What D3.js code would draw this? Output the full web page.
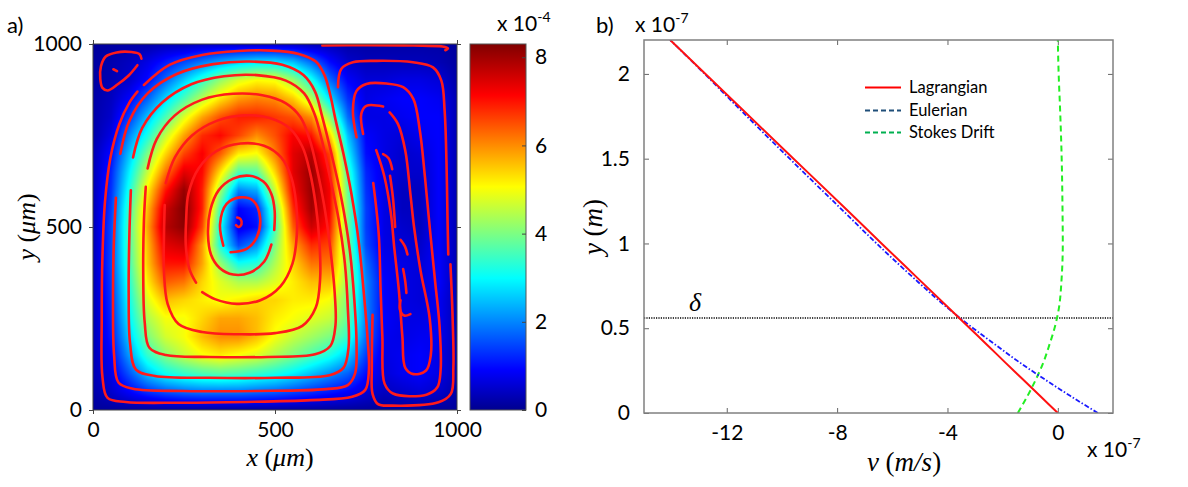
<!DOCTYPE html>
<html lang="en">
<head>
<meta charset="utf-8">
<title>Cavity flow: speed field and velocity profiles</title>
<script src="https://d3js.org/d3.v7.min.js"></script>
<style>
  body { margin: 0; background: #fff; }
  svg text { font-family: Lato, "Open Sans", sans-serif; fill: #000; }
  .math { font-family: "Liberation Serif", "DejaVu Serif", serif; }
</style>
</head>
<body>
<svg id="fig" width="1188" height="487"></svg>
<script>
// ---------- panel a) data : speed grid (x 1e-4), rows from y=1000 down to y=0 ----------
var gridX = [0, 50, 100, 150, 200, 250, 300, 350, 400, 450, 500, 550, 600, 650, 700, 750, 800, 850, 900, 950, 1000];
var gridY = [1000, 950, 900, 850, 800, 750, 700, 650, 600, 550, 500, 450, 400, 350, 300, 250, 200, 150, 100, 50, 0];
var speed = [
  [0.1, 0.15, 0.2, 0.2, 0.3, 0.3, 0.4, 0.4, 0.4, 0.4, 0.4, 0.4, 0.3, 0.3, 0.2, 0.2, 0.2, 0.2, 0.2, 0.2, 0.1],
  [0.15, 0.25, 0.4, 0.7, 1.1, 1.5, 1.9, 2.3, 2.6, 2.8, 2.8, 2.5, 1.8, 1.0, 0.5, 0.35, 0.35, 0.35, 0.35, 0.3, 0.15],
  [0.15, 0.3, 0.5, 1.0, 1.8, 2.6, 3.4, 4.2, 4.8, 5.1, 5.0, 4.3, 3.2, 1.8, 0.9, 0.6, 0.6, 0.7, 0.7, 0.6, 0.2],
  [0.2, 0.4, 0.9, 1.7, 2.7, 3.6, 4.5, 5.3, 5.9, 6.1, 6.0, 5.5, 4.5, 2.8, 1.3, 0.7, 0.8, 0.9, 0.9, 0.8, 0.3],
  [0.2, 0.5, 1.4, 2.5, 3.6, 4.8, 5.8, 6.5, 6.9, 6.9, 6.7, 6.5, 6.0, 4.2, 1.8, 0.7, 0.7, 0.8, 0.9, 0.9, 0.3],
  [0.2, 0.7, 2.0, 3.2, 4.6, 5.8, 6.8, 7.1, 6.6, 6.0, 6.5, 7.2, 7.0, 5.5, 2.5, 0.9, 0.7, 0.6, 0.8, 0.9, 0.3],
  [0.3, 1.0, 2.5, 4.0, 5.4, 6.6, 7.2, 6.4, 5.2, 5.0, 6.1, 7.4, 7.8, 6.6, 3.0, 1.0, 0.7, 0.5, 0.6, 0.9, 0.3],
  [0.3, 1.2, 2.9, 4.6, 6.2, 7.4, 7.1, 5.3, 3.6, 3.7, 5.4, 7.4, 8.1, 7.0, 3.5, 1.2, 0.7, 0.5, 0.5, 0.9, 0.3],
  [0.3, 1.3, 3.2, 5.2, 7.0, 8.1, 6.9, 4.3, 2.0, 2.3, 4.6, 7.2, 8.1, 7.2, 3.8, 1.3, 0.7, 0.4, 0.4, 0.9, 0.3],
  [0.3, 1.4, 3.5, 5.6, 7.6, 8.3, 6.9, 3.5, 0.9, 1.2, 3.8, 6.8, 8.0, 7.2, 4.0, 1.4, 0.7, 0.4, 0.4, 0.9, 0.3],
  [0.3, 1.5, 3.6, 5.8, 7.8, 8.2, 6.6, 3.1, 0.7, 1.0, 3.5, 6.4, 7.6, 7.0, 4.0, 1.4, 0.7, 0.5, 0.4, 0.9, 0.3],
  [0.3, 1.5, 3.6, 5.6, 7.4, 7.6, 5.9, 3.2, 1.5, 2.1, 4.0, 5.8, 6.8, 6.6, 4.0, 1.5, 0.7, 0.6, 0.5, 0.9, 0.3],
  [0.3, 1.5, 3.5, 5.5, 7.0, 7.0, 5.8, 4.2, 3.1, 3.3, 4.4, 5.4, 6.2, 6.2, 4.2, 1.8, 0.8, 0.7, 0.6, 0.9, 0.3],
  [0.3, 1.4, 3.3, 5.2, 6.4, 6.2, 5.4, 4.8, 4.4, 4.4, 4.8, 5.2, 5.6, 5.6, 4.2, 2.0, 0.9, 0.7, 0.6, 0.9, 0.3],
  [0.3, 1.3, 3.1, 4.8, 5.6, 5.4, 5.2, 5.0, 5.2, 5.4, 5.4, 5.2, 5.2, 5.0, 4.0, 2.0, 0.9, 0.7, 0.6, 0.8, 0.3],
  [0.3, 1.2, 2.9, 4.4, 5.0, 5.0, 5.4, 5.8, 5.8, 5.6, 5.2, 5.0, 4.8, 4.6, 3.8, 2.0, 0.9, 0.7, 0.7, 0.8, 0.3],
  [0.3, 1.1, 2.6, 4.0, 4.7, 5.0, 5.6, 6.0, 6.0, 5.6, 5.0, 4.6, 4.3, 4.0, 3.4, 1.8, 0.8, 0.7, 0.8, 0.8, 0.3],
  [0.3, 0.9, 2.2, 3.4, 4.1, 4.6, 5.0, 5.2, 5.0, 4.8, 4.4, 4.0, 3.6, 3.2, 2.6, 1.4, 0.7, 0.8, 0.9, 0.7, 0.3],
  [0.3, 0.7, 1.6, 2.5, 3.1, 3.4, 3.6, 3.7, 3.6, 3.4, 3.2, 2.9, 2.5, 2.1, 1.7, 1.0, 0.6, 0.8, 0.9, 0.7, 0.3],
  [0.2, 0.5, 0.9, 1.3, 1.6, 1.8, 1.9, 1.9, 1.9, 1.8, 1.7, 1.5, 1.3, 1.1, 0.9, 0.6, 0.4, 0.5, 0.6, 0.5, 0.2],
  [0.1, 0.1, 0.1, 0.1, 0.1, 0.1, 0.1, 0.1, 0.1, 0.1, 0.1, 0.1, 0.1, 0.1, 0.1, 0.1, 0.1, 0.1, 0.1, 0.1, 0.1]
];
var speedMax = 8.3;
var axisTicksA = [0, 500, 1000];
var colorbarTicks = [0, 2, 4, 6, 8];

// streamlines (x, y in um)
var streamPrimary = [
  [[140,888],[210,943],[300,970],[400,981],[490,982],[565,973],[612,952],[636,915],[652,860],[667,790],[688,700],[710,590],[730,460],[744,320],[754,200],[758,110],[748,55],[712,36],[600,27],[420,22],[240,20],[90,22],[40,33],[26,90],[24,250],[26,420],[33,570],[48,690],[72,780],[100,840],[122,870]],
  [[75,700],[100,790],[150,865],[230,918],[330,945],[430,952],[520,943],[578,915],[610,870],[630,800],[655,700],[682,580],[705,440],[718,300],[724,180],[720,100],[700,68],[640,57],[450,52],[250,52],[110,58],[70,75],[58,150],[55,300],[57,450],[63,580]],
  [[110,690],[135,770],[190,840],[270,890],[360,912],[450,915],[530,900],[580,865],[608,810],[628,740],[650,640],[675,520],[692,400],[700,280],[702,170],[688,115],[650,95],[500,88],[320,88],[170,93],[118,110],[102,180],[98,320],[100,480],[104,600]],
  [[150,660],[175,740],[225,805],[300,848],[385,864],[465,860],[530,838],[570,800],[595,740],[615,660],[635,560],[652,440],[664,320],[666,230],[652,175],[610,152],[480,145],[320,145],[200,150],[155,170],[142,240],[138,380],[140,520],[145,610]],
  [[200,620],[225,690],[272,750],[340,790],[415,805],[485,798],[540,770],[575,720],[596,650],[612,560],[622,460],[624,360],[612,280],[575,230],[500,210],[400,207],[300,213],[235,235],[205,290],[195,380],[195,480],[197,560]],
  [[300,322],[335,303],[395,290],[460,300],[515,338],[548,400],[560,480],[558,565],[545,635],[517,690],[470,722],[405,728],[340,708],[290,660],[262,590],[256,520],[255,450],[265,385],[283,348]],
  [[490,452],[470,405],[430,375],[385,370],[348,388],[324,425],[316,480],[322,545],[345,600],[385,632],[430,640],[468,624],[490,590],[499,545],[498,492]],
  [[358,449],[349,508],[367,563],[404,581],[440,572],[459,526],[450,472],[422,440],[378,431]],
  [[393,505],[400,500],[408,508],[405,522],[396,526]]
];
var streamSecondary = [
  [[673,882],[682,932],[714,950],[779,954],[879,950],[934,936],[957,900],[966,818],[971,681],[974,520],[976,425]],
  [[982,398],[988,250],[990,117],[983,44],[949,21],[822,12],[783,16],[768,44],[766,120],[768,260]],
  [[724,745],[714,818],[724,872],[751,891],[806,892],[852,882],[880,850],[898,763],[912,636],[925,500],[940,350],[952,230],[955,110],[946,62],[916,42],[824,45],[801,72],[795,199],[790,330],[785,480],[770,620]],
  [[742,754],[737,809],[751,831],[797,829]],
  [[815,813],[838,781],[858,708],[872,590],[882,500],[900,380],[925,250],[928,150],[915,108],[880,98],[858,115],[850,200],[840,330],[828,440],[818,540],[800,640],[778,710]],
  [[797,699],[812,688],[822,658]],
  [[816,640],[824,580],[830,500]],
  [[845,465],[857,447],[864,425]],
  [[852,385],[858,350],[861,320]],
  [[845,300],[843,275],[855,258],[872,262]]
];
var streamCorner = [
  [[133,960],[128,972],[105,978],[65,977],[35,966],[22,940],[20,905],[26,880],[40,873],[68,890],[98,914],[122,942]],
  [[56,931],[66,926]],
  [[630,996],[750,997],[880,996],[960,993],[975,988],[968,983]]
];

// ---------- panel b) data : velocity profiles (x 1e-7) ----------
var heightB = [0, 0.1, 0.2, 0.3, 0.4, 0.5, 0.6, 0.8, 1.0, 1.2, 1.5, 1.8, 2.0, 2.2];
var lagrangianV = [0, -0.64, -1.28, -1.92, -2.55, -3.19, -3.83, -5.11, -6.39, -7.66, -9.58, -11.5, -12.77, -14.05];
var eulerianV = [1.45, 0.46, -0.49, -1.40, -2.24, -3.07, -3.85, -5.25, -6.57, -7.83, -9.72, -11.58, -12.80, -14.05];
var stokesV = [-1.45, -1.1, -0.79, -0.52, -0.31, -0.12, 0.02, 0.14, 0.18, 0.17, 0.14, 0.08, 0.03, 0.0];
var deltaY = 0.56;
var vTicks = [-12, -8, -4, 0];
var yTicksB = [0, 0.5, 1, 1.5, 2];
var legendNames = ["Lagrangian", "Eulerian", "Stokes Drift"];

var svg = d3.select("#fig");
var plain = function (d) { return String(d); };

// ================= panel a =================
var xA = d3.scaleLinear().domain([0, 1000]).range([93, 457]);
var yA = d3.scaleLinear().domain([0, 1000]).range([410, 44]);
var jetStops = [0, 0.11, 0.36, 0.61, 0.86, 1];
var jetColors = ["#00008f", "#0000ff", "#00ffff", "#ffff00", "#ff0000", "#800000"];
var jet = d3.scaleLinear()
    .domain(jetStops.map(function (t) { return t * speedMax; }))
    .range(jetColors)
    .clamp(true);

// speed field painted into a canvas, then placed in the svg
var W = Math.round(xA(1000) - xA(0)), H = Math.round(yA(0) - yA(1000));
var cv = document.createElement("canvas");
cv.width = W; cv.height = H;
var ctx = cv.getContext("2d");
var img = ctx.createImageData(W, H);
var gx = d3.scaleLinear().domain([gridX[0], gridX[gridX.length - 1]]).range([0, gridX.length - 1]);
var gy = d3.scaleLinear().domain([gridY[0], gridY[gridY.length - 1]]).range([0, gridY.length - 1]);
for (var py = 0; py < H; py++) {
    var fy = gy(yA.invert(yA(1000) + py + 0.5));
    var j0 = Math.min(Math.floor(fy), gridY.length - 2), ty = fy - j0;
    for (var px = 0; px < W; px++) {
        var fx = gx(xA.invert(xA(0) + px + 0.5));
        var i0 = Math.min(Math.floor(fx), gridX.length - 2), tx = fx - i0;
        var v = (speed[j0][i0] * (1 - tx) + speed[j0][i0 + 1] * tx) * (1 - ty) +
                (speed[j0 + 1][i0] * (1 - tx) + speed[j0 + 1][i0 + 1] * tx) * ty;
        var c = d3.rgb(jet(v)), k = (py * W + px) * 4;
        img.data[k] = c.r; img.data[k + 1] = c.g; img.data[k + 2] = c.b; img.data[k + 3] = 255;
    }
}
ctx.putImageData(img, 0, 0);

var panelA = svg.append("g");
panelA.append("image")
    .attr("x", xA(0)).attr("y", yA(1000))
    .attr("width", W).attr("height", H)
    .attr("preserveAspectRatio", "none")
    .attr("href", cv.toDataURL());

panelA.append("clipPath").attr("id", "clipA")
  .append("rect")
    .attr("x", xA(0)).attr("y", yA(1000)).attr("width", W).attr("height", H);

var streamLine = d3.line()
    .x(function (d) { return xA(d[0]); })
    .y(function (d) { return yA(d[1]); })
    .curve(d3.curveCatmullRom.alpha(0.5));

panelA.append("g").attr("clip-path", "url(#clipA)")
  .selectAll("path")
  .data(streamPrimary.concat(streamSecondary, streamCorner))
  .enter().append("path")
    .attr("d", streamLine)
    .attr("fill", "none")
    .attr("stroke", "#ff1a1a")
    .attr("stroke-width", 2.6)
    .attr("stroke-linecap", "round");

panelA.append("rect")
    .attr("x", xA(0)).attr("y", yA(1000)).attr("width", W).attr("height", H)
    .attr("fill", "none").attr("stroke", "#444").attr("stroke-width", 1);

function styleAxis(g) {
    g.select(".domain").remove();
    g.selectAll(".tick line").attr("stroke", "#444");
    g.selectAll("text").style("font-family", "Lato, 'Open Sans', sans-serif").style("font-size", "21px").attr("fill", "#000");
}
panelA.append("g").attr("transform", "translate(0," + yA(0) + ")")
    .call(d3.axisBottom(xA).tickValues(axisTicksA).tickFormat(plain).tickSize(4).tickPadding(8))
    .call(styleAxis);
panelA.append("g").attr("transform", "translate(" + xA(0) + ",0)")
    .call(d3.axisLeft(yA).tickValues(axisTicksA).tickFormat(plain).tickSize(4).tickPadding(7))
    .call(styleAxis);
panelA.append("g").attr("transform", "translate(0," + yA(1000) + ")")
    .call(d3.axisTop(xA).tickValues(axisTicksA).tickSize(4).tickFormat(""))
    .call(styleAxis);
panelA.append("g").attr("transform", "translate(" + xA(1000) + ",0)")
    .call(d3.axisRight(yA).tickValues(axisTicksA).tickSize(4).tickFormat(""))
    .call(styleAxis);

// colorbar
var yC = d3.scaleLinear().domain([0, speedMax]).range([410, 44]);
var grad = svg.append("defs").append("linearGradient")
    .attr("id", "jetGrad").attr("x1", 0).attr("y1", 1).attr("x2", 0).attr("y2", 0);
grad.selectAll("stop").data(jetStops).enter().append("stop")
    .attr("offset", function (d) { return d; })
    .attr("stop-color", function (d, i) { return jetColors[i]; });
panelA.append("rect")
    .attr("x", 470).attr("y", yC(speedMax)).attr("width", 56).attr("height", yC(0) - yC(speedMax))
    .attr("fill", "url(#jetGrad)").attr("stroke", "#555").attr("stroke-width", 1);
panelA.append("g").attr("transform", "translate(526,0)")
    .call(d3.axisRight(yC).tickValues(colorbarTicks).tickFormat(plain).tickSize(-4).tickPadding(9))
    .call(styleAxis);
var cbExp = panelA.append("text").attr("x", 497).attr("y", 31).style("font-size", "21px").text("x 10");
cbExp.append("tspan").attr("dy", -9).style("font-size", "14px").text("-4");

panelA.append("text").attr("x", 7).attr("y", 33).style("font-size", "22px").text("a)");
var xlabA = panelA.append("text").attr("class", "math")
    .attr("x", 280).attr("y", 466).attr("text-anchor", "middle").style("font-size", "26px");
xlabA.append("tspan").style("font-style", "italic").text("x");
xlabA.append("tspan").text(" (");
xlabA.append("tspan").style("font-style", "italic").text("\u03bcm");
xlabA.append("tspan").text(")");
var ylabA = panelA.append("text").attr("class", "math")
    .attr("transform", "translate(35,227) rotate(-90)").attr("text-anchor", "middle").style("font-size", "26px");
ylabA.append("tspan").style("font-style", "italic").text("y");
ylabA.append("tspan").text(" (");
ylabA.append("tspan").style("font-style", "italic").text("\u03bcm");
ylabA.append("tspan").text(")");

// ================= panel b =================
var xB = d3.scaleLinear().domain([-15, 2]).range([644, 1113]);
var yB = d3.scaleLinear().domain([0, 2.2]).range([413, 40]);
var panelB = svg.append("g");

panelB.append("clipPath").attr("id", "clipB")
  .append("rect").attr("x", xB(-15)).attr("y", yB(2.2))
    .attr("width", xB(2) - xB(-15)).attr("height", yB(0) - yB(2.2));

function styleAxisB(g) {
    g.select(".domain").remove();
    g.selectAll(".tick line").attr("stroke", "#666");
    g.selectAll("text").style("font-family", "Lato, 'Open Sans', sans-serif").style("font-size", "21px").attr("fill", "#000");
}
panelB.append("g").attr("transform", "translate(0," + yB(0) + ")")
    .call(d3.axisBottom(xB).tickValues(vTicks).tickFormat(plain).tickSize(-5).tickPadding(12))
    .call(styleAxisB);
panelB.append("g").attr("transform", "translate(0," + yB(2.2) + ")")
    .call(d3.axisTop(xB).tickValues(vTicks).tickSize(-5).tickFormat(""))
    .call(styleAxisB);
panelB.append("g").attr("transform", "translate(" + xB(-15) + ",0)")
    .call(d3.axisLeft(yB).tickValues(yTicksB).tickFormat(plain).tickSize(-5).tickPadding(14))
    .call(styleAxisB);
panelB.append("g").attr("transform", "translate(" + xB(2) + ",0)")
    .call(d3.axisRight(yB).tickValues(yTicksB).tickSize(-5).tickFormat(""))
    .call(styleAxisB);

var curves = panelB.append("g").attr("clip-path", "url(#clipB)");
function profile(vals) {
    return d3.line()
        .x(function (d, i) { return xB(vals[i]); })
        .y(function (d) { return yB(d); })
        .curve(d3.curveMonotoneY)(heightB);
}
curves.append("line")
    .attr("x1", xB(-15)).attr("x2", xB(2)).attr("y1", yB(deltaY)).attr("y2", yB(deltaY))
    .attr("stroke", "#000").attr("stroke-width", 1.6).attr("stroke-dasharray", "1.2,1.2");
curves.append("path").attr("d", profile(stokesV))
    .attr("fill", "none").attr("stroke", "#22ee22").attr("stroke-width", 2).attr("stroke-dasharray", "6,4");
curves.append("path").attr("d", profile(eulerianV))
    .attr("fill", "none").attr("stroke", "#1a1aff").attr("stroke-width", 1.8).attr("stroke-dasharray", "5,2,1.5,2");
curves.append("path").attr("d", profile(lagrangianV))
    .attr("fill", "none").attr("stroke", "#ff1111").attr("stroke-width", 2);

panelB.append("rect")
    .attr("x", xB(-15)).attr("y", yB(2.2))
    .attr("width", xB(2) - xB(-15)).attr("height", yB(0) - yB(2.2))
    .attr("fill", "none").attr("stroke", "#808080").attr("stroke-width", 1.5);

panelB.append("text").attr("class", "math")
    .attr("x", xB(-13.15)).attr("y", yB(deltaY) - 7).attr("text-anchor", "middle")
    .style("font-size", "26px").style("font-style", "italic").text("\u03b4");

// legend
var legendColors = ["#ff0000", "#1f4e79", "#00b050"];
var legendDash = [null, "5,3", "5,3"];
var legendY = [87, 110, 132];
var leg = panelB.append("g").selectAll("g").data(legendNames).enter().append("g");
leg.append("line")
    .attr("x1", 865).attr("x2", 901)
    .attr("y1", function (d, i) { return legendY[i] + 0.5; })
    .attr("y2", function (d, i) { return legendY[i] + 0.5; })
    .attr("stroke", function (d, i) { return legendColors[i]; })
    .attr("stroke-width", 2)
    .attr("stroke-dasharray", function (d, i) { return legendDash[i]; });
leg.append("text")
    .attr("x", 909).attr("y", function (d, i) { return legendY[i]; })
    .attr("dy", "0.35em").style("font-size", "16.5px")
    .text(function (d) { return d; });

panelB.append("text").attr("x", 596).attr("y", 33).style("font-size", "22px").text("b)");
var expTop = panelB.append("text").attr("x", 635).attr("y", 32).style("font-size", "21px").text("x 10");
expTop.append("tspan").attr("dy", -9).style("font-size", "14px").text("-7");
var expBot = panelB.append("text").attr("x", 1087).attr("y", 457).style("font-size", "21px").text("x 10");
expBot.append("tspan").attr("dy", -9).style("font-size", "14px").text("-7");

var xlabB = panelB.append("text").attr("class", "math")
    .attr("x", 904).attr("y", 471).attr("text-anchor", "middle").style("font-size", "27px");
xlabB.append("tspan").style("font-style", "italic").text("v");
xlabB.append("tspan").text(" (");
xlabB.append("tspan").style("font-style", "italic").text("m/s");
xlabB.append("tspan").text(")");
var ylabB = panelB.append("text").attr("class", "math")
    .attr("transform", "translate(602,227) rotate(-90)").attr("text-anchor", "middle").style("font-size", "27px");
ylabB.append("tspan").style("font-style", "italic").text("y");
ylabB.append("tspan").text(" (");
ylabB.append("tspan").style("font-style", "italic").text("m");
ylabB.append("tspan").text(")");
</script>
</body>
</html>
